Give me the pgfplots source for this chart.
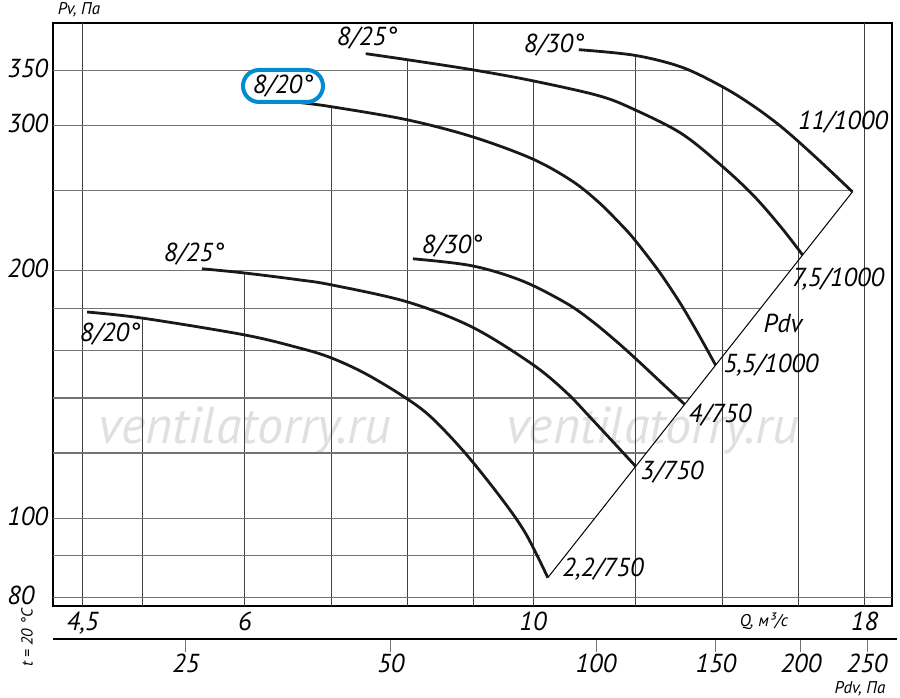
\documentclass[border=0pt]{standalone}
\usepackage{pgfplots}
\pgfplotsset{compat=1.18}
\usepackage{fontspec}
\setmainfont{PT Sans}

\definecolor{hl}{RGB}{0,140,210}
\newcommand\lf{\fontsize{13bp}{15bp}\selectfont\itshape}
\newcommand\smf{\fontsize{8.5bp}{10bp}\selectfont\itshape}

\tikzset{
  gv/.style={black!75, line width=0.45bp},
  gh/.style={black!55, line width=0.6bp},
  curve/.style={black!90, line width=1.4bp, smooth, tension=0.55},
}

\begin{document}
\begin{tikzpicture}
\useasboundingbox (0,0) rectangle (450bp,349bp);

% watermark
\begin{scope}[x=0.5bp,y=-0.5bp,yshift=349bp]
  \node[text=black!12, font=\fontsize{26bp}{30bp}\selectfont\itshape] at (245,430) {ventilatorry.ru};
  \node[text=black!12, font=\fontsize{26bp}{30bp}\selectfont\itshape] at (653,430) {ventilatorry.ru};
\end{scope}

% Pv over Q
\begin{axis}[
  at={(26.5bp,46bp)}, anchor=south west,
  scale only axis, width=419.5bp, height=291.5bp,
  xmode=log, ymode=log,
  xmin=4.27, xmax=18.9, ymin=78.2, ymax=400,
  axis line style={line width=1bp},
  tick style={draw=none},
  xtick={4.5,6,10,18}, xticklabels={{4,5},6,10,18},
  ytick={80,100,200,300,350}, yticklabels={80,100,200,300,350},
  minor xtick={}, minor ytick={},
  /pgf/number format/assume math mode=true,
  tick label style={font=\lf},
  xticklabel style={anchor=north, inner sep=0pt, yshift=-3bp},
  yticklabel style={anchor=west, inner sep=0pt, xshift=-23bp, yshift=1bp},
]
% grid, vertical lines stop at the top curve
\addplot[gv] coordinates {(4.5,78.2) (4.5,400)};
\addplot[gv] coordinates {(5,78.2) (5,175.1)};
\addplot[gv] coordinates {(6,78.2) (6,198.7)};
\addplot[gv] coordinates {(7,78.2) (7,316.4)};
\addplot[gv] coordinates {(8,78.2) (8,361.0)};
\addplot[gv] coordinates {(9,78.2) (9,400)};
\addplot[gv] coordinates {(10,78.2) (10,340.4)};
\addplot[gv] coordinates {(12,78.2) (12,365.2)};
\addplot[gv] coordinates {(14,78.2) (14,334.5)};
\addplot[gv] coordinates {(16,78.2) (16,288)};
\addplot[gv] coordinates {(18,78.2) (18,400)};
% horizontal lines stop at Pdv line / top curve
\addplot[gh] coordinates {(4.27,80) (18.9,80)};
\addplot[gh] coordinates {(4.27,90) (10.13,90)};
\addplot[gh] coordinates {(4.27,100) (11.16,100)};
\addplot[gh] coordinates {(4.27,120) (12.22,120)};
\addplot[gh] coordinates {(4.27,140) (13.20,140)};
\addplot[gh] coordinates {(4.27,160) (14.12,160)};
\addplot[gh] coordinates {(4.27,180) (14.97,180)};
\addplot[gh] coordinates {(4.27,200) (15.78,200)};
\addplot[gh] coordinates {(4.27,250) (17.62,250)};
\addplot[gh] coordinates {(4.27,300) (15.51,300)};
\addplot[gh] coordinates {(4.27,350) (13.13,350)};

% Pdv line
\addplot[black, line width=0.5bp] coordinates {(10.267,84.65) (17.62,249.3)};

% 8/20 - 2,2/750
\addplot[curve] coordinates {
  (4.536,178.1) (5.000,175.1) (5.990,167.1) (6.603,161.1) (6.988,156.7)
  (7.434,149.8) (7.982,140.0) (8.359,132.4) (8.878,119.7) (9.463,105.5)
  (9.874,95.7) (10.267,84.65)};
% 8/25 - 3/750
\addplot[curve] coordinates {
  (5.561,201.0) (5.990,198.7) (6.603,194.9) (6.988,192.2) (7.996,183.3)
  (8.973,170.8) (9.980,154.0) (10.599,142.4) (11.098,132.0) (11.997,115.6)};
% 8/30 - 4/750
\addplot[curve] coordinates {
  (8.082,206.7) (8.973,202.7) (9.804,194.4) (10.599,182.7) (11.098,173.7)
  (11.580,164.3) (11.975,156.7) (12.540,146.4) (13.086,137.5)};
% 8/20 - 5,5/1000
\addplot[curve] coordinates {
  (6.626,320.0) (6.988,316.5) (7.996,305.1) (8.973,291.0) (9.980,273.6)
  (10.713,257.1) (11.237,242.1) (11.704,227.0) (11.975,218.0) (12.496,199.8)
  (12.947,183.8) (13.248,173.0) (13.533,163.1) (13.824,153.46)};
% 8/25 - 7,5/1000
\addplot[curve] coordinates {
  (7.434,367.1) (7.996,361.0) (8.973,351.0) (9.980,340.4) (11.237,326.3)
  (11.975,313.8) (13.016,293.4) (13.972,268.2) (14.788,246.6) (15.540,225.4)
  (16.129,208.9)};
% 8/30 - 11/1000
\addplot[curve] coordinates {
  (10.846,371.2) (11.975,365.4) (13.016,353.5) (13.972,335.0) (14.736,318.1)
  (15.540,298.9) (16.504,274.8) (17.62,249.3)};
\end{axis}

% Pdv scale
\begin{axis}[
  at={(26.5bp,29.5bp)}, anchor=south west,
  scale only axis, width=422bp, height=1bp,
  xmode=log, xmin=15.95, xmax=276.7, ymin=0, ymax=1,
  axis x line*=bottom, hide y axis,
  x axis line style={line width=1.4bp},
  xtick={25,50,100,150,200,250}, xticklabels={25,50,100,150,200,250},
  minor xtick={},
  tick align=outside, major tick length=6.5bp,
  tick style={black!55, line width=0.5bp},
  /pgf/number format/assume math mode=true,
  xticklabel style={font=\lf, inner sep=0pt, yshift=-1bp},
]
\addplot[draw=none] coordinates {(20,0.5)};
\end{axis}

% labels, in pixel units of the reference
\begin{scope}[x=0.5bp,y=-0.5bp,yshift=349bp]
  \node[font=\smf] at (79,10) {Pv, Па};
  \node[font=\smf] at (764,621) {Q, м³/с};
  \node[font=\smf] at (860,689) {Pdv, Па};
  \node[font=\fontsize{8bp}{10bp}\selectfont\itshape, rotate=90] at (27,638) {t = 20 °C};

  \node[font=\lf] at (367,38) {8/25°};
  \node[font=\lf, draw=hl, line width=2bp, fill=white, rounded corners=8bp,
        minimum width=40bp, minimum height=16bp, inner sep=0pt] at (283,86) {8/20°};
  \node[font=\lf] at (194,254) {8/25°};
  \node[font=\lf] at (110,334) {8/20°};
  \node[font=\lf] at (452,246) {8/30°};
  \node[font=\lf] at (554,45) {8/30°};

  \node[font=\lf] at (843,122) {11/1000};
  \node[font=\lf] at (838,279) {7,5/1000};
  \node[font=\lf] at (783,323) {Pdv};
  \node[font=\lf] at (771,365) {5,5/1000};
  \node[font=\lf] at (720,415) {4/750};
  \node[font=\lf] at (672,472) {3/750};
  \node[font=\lf] at (603,569) {2,2/750};
\end{scope}
\end{tikzpicture}
\end{document}
